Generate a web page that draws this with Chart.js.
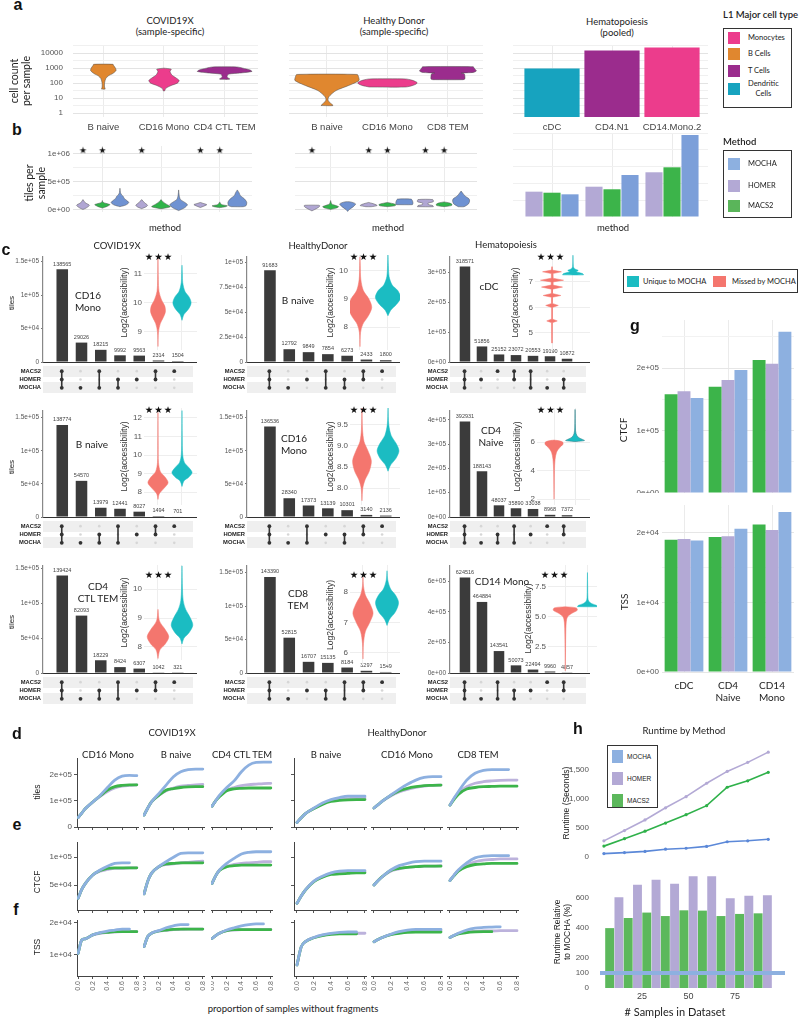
<!DOCTYPE html>
<html>
<head>
<meta charset="utf-8">
<title>MOCHA comparison figure</title>
<script src="https://cdn.jsdelivr.net/npm/chart.js@4.4.1/dist/chart.umd.min.js"></script>
<style>
  html, body { margin: 0; padding: 0; background: #fff; }
  #fig { position: relative; width: 800px; height: 1019px; overflow: hidden; font-family: Lato, 'Open Sans', sans-serif; color: #222; }
  #fig canvas { position: absolute; }
  .t { position: absolute; white-space: nowrap; }
  .r { position: absolute; box-sizing: border-box; }
</style>
</head>
<body>
<div id="fig"></div>
<script>
// ---- panel a : cell count per sample ----
const aCovidCats = ['B naive', 'CD16 Mono', 'CD4 CTL TEM'];
const aHealthyCats = ['B naive', 'CD16 Mono', 'CD8 TEM'];
const aHemaCats = ['cDC', 'CD4.N1', 'CD14.Mono.2'];
const aLogTicks = [1, 3.16, 10, 31.6, 100, 316, 1000, 3162, 10000, 31623];
const aLogLabels = [1, 10, 100, 1000, 10000];
// violin outlines: cell counts (y) and half widths (w)
const aCovidY = [
  [40, 55, 100, 200, 300, 450, 700, 1000, 1500, 1800],
  [30, 45, 70, 100, 150, 220, 350, 600, 850, 1000],
  [180, 200, 230, 300, 400, 470, 600, 750, 1000, 1200]
];
const aCovidW = [
  [0.03, 0.02, 0.02, 0.04, 0.08, 0.16, 0.21, 0.2, 0.17, 0.16],
  [0.01, 0.03, 0.12, 0.22, 0.25, 0.2, 0.13, 0.1, 0.12, 0],
  [0.08, 0.08, 0.05, 0.04, 0.07, 0.25, 0.45, 0.42, 0.3, 0.2]
];
const aHealthyY = [
  [3.2, 4.5, 7, 10, 15, 32, 70, 150, 280, 380],
  [55, 70, 90, 110, 130, 160, 190],
  [170, 190, 300, 420, 470, 520, 650, 850, 1050, 1250]
];
const aHealthyW = [
  [0.1, 0.06, 0.02, 0.02, 0.05, 0.15, 0.36, 0.53, 0.52, 0.5],
  [0.3, 0.42, 0.48, 0.49, 0.46, 0.4, 0.3],
  [0.25, 0.28, 0.28, 0.27, 0.22, 0.42, 0.47, 0.45, 0.43, 0.42]
];
const aHemaCounts = [950, 15100, 24000];

// ---- panel b : tiles per sample ----
const bMethods = ['HOMER', 'MACS2', 'MOCHA'];
const bTicks = [0, 250000, 500000, 750000, 1000000];
const bStarLevel = 1050000;
const bCovidY = [
  [0, 30000, 76000, 120000, 177000],
  [25000, 55000, 86000, 110000, 130000, 160000],
  [50000, 80000, 120000, 150000, 200000, 230000, 260000, 300000, 380000],
  [15000, 45000, 76000, 120000, 177000],
  [15000, 50000, 90000, 140000, 177000],
  [-20000, 30000, 86000, 130000, 180000, 250000, 350000],
  [35000, 60000, 86000, 105000, 126000],
  [35000, 50000, 66000, 90000, 136000],
  [50000, 70000, 130000, 190000, 250000, 300000, 350000]
];
const bCovidW = [
  [0, 0.06, 0.11, 0.04, 0],
  [0, 0.08, 0.13, 0.06, 0.01, 0],
  [0, 0.1, 0.15, 0.13, 0.07, 0.06, 0.03, 0.01, 0],
  [0, 0.07, 0.1, 0.05, 0],
  [0.02, 0.16, 0.1, 0.03, 0],
  [0, 0.1, 0.15, 0.1, 0.03, 0.01, 0],
  [0, 0.06, 0.11, 0.06, 0],
  [0, 0.1, 0.13, 0.03, 0],
  [0.1, 0.15, 0.16, 0.12, 0.05, 0.03, 0]
];
const bHealthyY = [
  [-25000, 0, 40000, 65000, 76000],
  [0, 25000, 50000, 75000, 100000, 160000],
  [-35000, 0, 50000, 100000, 136000],
  [50000, 70000, 86000, 110000, 126000],
  [50000, 65000, 86000, 105000, 126000],
  [86000, 100000, 130000, 160000, 186000],
  [50000, 70000, 90000, 115000, 140000, 177000],
  [50000, 70000, 90000, 115000, 136000],
  [50000, 100000, 150000, 190000, 240000, 290000, 330000]
];
const bHealthyW = [
  [0, 0.05, 0.12, 0.14, 0.12],
  [0, 0.1, 0.14, 0.08, 0.02, 0],
  [0, 0.03, 0.1, 0.14, 0.05],
  [0.05, 0.15, 0.13, 0.06, 0],
  [0, 0.13, 0.15, 0.1, 0],
  [0.14, 0.15, 0.15, 0.14, 0.12],
  [0.14, 0.13, 0.05, 0.05, 0.14, 0.13],
  [0, 0.13, 0.14, 0.1, 0],
  [0.05, 0.13, 0.15, 0.14, 0.07, 0.03, 0]
];
const bCovidStars = [[1, 'HOMER'], [1, 'MACS2'], [2, 'HOMER'], [3, 'HOMER'], [3, 'MACS2']];
const bHealthyStars = [[1, 'HOMER'], [2, 'HOMER'], [2, 'MACS2'], [3, 'HOMER'], [3, 'MACS2']];
const bHemaHOMER = [392000, 469000, 692000];
const bHemaMACS2 = [376000, 429000, 769000];
const bHemaMOCHA = [351000, 650000, 1269000];

// ---- panel c : upset plots (order: COVID19X, HealthyDonor, Hematopoiesis per row) ----
const cBars = [
  [138565, 29026, 18215, 9992, 9563, 2314, 1504],
  [91683, 12792, 9849, 7854, 6273, 2433, 1800],
  [318571, 51856, 25152, 23072, 20553, 19190, 10872],
  [138774, 54570, 13979, 12441, 8027, 1494, 701],
  [136536, 28340, 17373, 13139, 10301, 3140, 2136],
  [392931, 188143, 48037, 35890, 33038, 8968, 7372],
  [139424, 82093, 18229, 8424, 6307, 1042, 321],
  [143390, 52815, 16707, 15135, 8184, 3297, 1549],
  [624516, 464884, 143541, 50073, 22494, 9960, 4857]
];
// A = MACS2, H = HOMER, M = MOCHA
const cInter = [
  ['AHM', 'M', 'AM', 'HM', 'H', 'AH', 'A'],
  ['AHM', 'M', 'H', 'AM', 'HM', 'AH', 'A'],
  ['AHM', 'H', 'A', 'AH', 'AM', 'M', 'HM'],
  ['AHM', 'M', 'HM', 'AM', 'H', 'AH', 'A'],
  ['AHM', 'M', 'AM', 'H', 'HM', 'AH', 'A'],
  ['AHM', 'M', 'HM', 'AM', 'H', 'A', 'AH'],
  ['AHM', 'M', 'HM', 'AM', 'H', 'AH', 'A'],
  ['AHM', 'M', 'H', 'HM', 'AM', 'AH', 'A'],
  ['AHM', 'M', 'AM', 'HM', 'H', 'A', 'AH']
];
const cSetRows = ['MOCHA', 'HOMER', 'MACS2'];
const cTicks = [
  [0, 5e4, 1e5, 1.5e5], [0, 2.5e4, 5e4, 7.5e4, 1e5], [0, 1e5, 2e5, 3e5],
  [0, 5e4, 1e5, 1.5e5], [0, 5e4, 1e5, 1.5e5], [0, 1e5, 2e5, 3e5, 4e5],
  [0, 5e4, 1e5, 1.5e5], [0, 5e4, 1e5, 1.5e5], [0, 2e5, 4e5, 6e5]
];
const cMax = [157000, 105000, 350000, 160000, 160000, 436000, 153000, 160000, 700000];
const cNames = [['CD16', 'Mono'], ['B naive'], ['cDC'], ['B naive'], ['CD16', 'Mono'], ['CD4', 'Naive'], ['CD4', 'CTL TEM'], ['CD8', 'TEM'], ['CD14 Mono']];
// inset violins: log2 accessibility knots (y) and half widths (w); red = missed, teal = unique
const cRedY = [
  [8.5, 9.0, 9.3, 9.5, 9.7, 9.9, 10.1, 10.4, 10.8, 11.6],
  [7.3, 7.8, 8.1, 8.4, 8.7, 9.0, 9.3, 9.7, 10.2, 10.5],
  [4.6, 5.4, 5.47, 5.55, 6.0, 6.08, 6.16, 6.4, 6.47, 6.55, 6.72, 6.8, 6.88, 7.0, 7.07, 7.15, 7.33, 7.4, 7.47, 7.6],
  [7.6, 7.9, 8.2, 8.5, 8.8, 9.1, 9.6, 10.5, 12.3],
  [7.7, 8.0, 8.2, 8.4, 8.65, 8.9, 9.1, 9.4, 9.9],
  [2.0, 3.0, 4.0, 4.8, 5.3, 5.6, 5.85, 6.0, 6.1, 6.15],
  [7.6, 7.9, 8.1, 8.35, 8.6, 8.9, 9.3],
  [5.8, 6.3, 6.7, 7.0, 7.3, 7.6, 7.9, 8.2, 8.5],
  [0.5, 2.0, 3.5, 4.5, 5.0, 5.3, 5.55, 5.75, 5.85]
];
const cRedW = [
  [0, 0.02, 0.1, 0.22, 0.31, 0.28, 0.15, 0.04, 0.015, 0],
  [0, 0.02, 0.1, 0.3, 0.42, 0.32, 0.12, 0.03, 0.01, 0],
  [0, 0.01, 0.25, 0.01, 0.01, 0.3, 0.01, 0.02, 0.42, 0.02, 0.03, 0.5, 0.04, 0.04, 0.55, 0.04, 0.03, 0.45, 0.01, 0],
  [0, 0.05, 0.25, 0.42, 0.3, 0.1, 0.02, 0.008, 0],
  [0, 0.03, 0.12, 0.28, 0.36, 0.22, 0.08, 0.02, 0],
  [0, 0.01, 0.02, 0.05, 0.12, 0.25, 0.42, 0.42, 0.25, 0],
  [0, 0.08, 0.3, 0.45, 0.3, 0.06, 0],
  [0, 0.02, 0.1, 0.28, 0.42, 0.3, 0.1, 0.02, 0],
  [0, 0.01, 0.02, 0.04, 0.1, 0.3, 0.54, 0.5, 0]
];
const cTealY = [
  [9.4, 9.6, 9.8, 10.0, 10.2, 10.4, 10.7, 11.0, 11.3],
  [8.4, 8.6, 8.8, 9.05, 9.3, 9.5, 9.8, 10.2, 10.6],
  [7.28, 7.33, 7.4, 7.45, 7.52, 7.6, 8.05],
  [8.3, 8.6, 8.8, 9.05, 9.3, 9.6, 10.0, 11.0, 12.4],
  [8.4, 8.55, 8.7, 8.88, 9.05, 9.25, 9.5, 9.9],
  [6.05, 6.12, 6.2, 6.35, 6.6, 7.0, 8.3],
  [8.1, 8.3, 8.5, 8.75, 9.0, 9.3, 9.6, 10.0, 10.8],
  [6.9, 7.1, 7.35, 7.65, 7.9, 8.1, 8.4, 8.7],
  [5.85, 5.95, 6.1, 6.3, 6.6, 7.5, 8.7]
];
const cTealW = [
  [0, 0.08, 0.28, 0.38, 0.3, 0.12, 0.03, 0.015, 0],
  [0, 0.1, 0.3, 0.45, 0.35, 0.15, 0.04, 0.015, 0],
  [0.5, 0.45, 0.15, 0.25, 0.08, 0.02, 0],
  [0, 0.08, 0.28, 0.42, 0.3, 0.1, 0.03, 0.01, 0],
  [0, 0.1, 0.3, 0.42, 0.32, 0.12, 0.03, 0],
  [0.05, 0.45, 0.35, 0.15, 0.05, 0.015, 0],
  [0, 0.08, 0.3, 0.45, 0.35, 0.15, 0.05, 0.02, 0],
  [0, 0.1, 0.35, 0.48, 0.35, 0.15, 0.03, 0],
  [0.45, 0.42, 0.2, 0.06, 0.02, 0.01, 0]
];
const cAccTicks = [[9, 10, 11], [8, 9, 10], [5, 6, 7], [8, 9, 10, 11, 12], [8, 8.5, 9, 9.5], [2, 4, 6], [8, 9, 10], [6, 7, 8], [2.5, 5, 7.5]];
const cAccRange = [[8.38, 11.65], [7.18, 10.57], [4.33, 8.06], [7.3, 12.54], [7.6, 9.9], [1.6, 8.4], [7.55, 10.83], [5.6, 8.89], [0.4, 9.33]];

// ---- panels d-f : saturation curves, values in thousands; each facet = [MOCHA, HOMER, MACS2] ----
const dX = [0, 0.05, 0.1, 0.2, 0.3, 0.4, 0.5, 0.6, 0.7, 0.8];
const dFacets = ['CD16 Mono', 'B naive', 'CD4 CTL TEM', 'B naive', 'CD16 Mono', 'CD8 TEM'];
const dTilesK = [
  [[36, 53, 70, 95, 120, 150, 178, 193, 196, 195], [36, 53, 70, 95, 116, 135, 148, 155, 158, 160], [36, 53, 70, 95, 118, 140, 153, 158, 160, 160]],
  [[45, 72, 95, 127, 159, 191, 210, 218, 220, 220], [45, 72, 95, 120, 138, 148, 155, 158, 160, 162], [45, 72, 95, 120, 140, 146, 150, 152, 153, 153]],
  [[79, 100, 120, 150, 175, 210, 235, 245, 246, 246], [79, 100, 118, 140, 150, 157, 161, 163, 165, 166], [79, 100, 115, 138, 145, 147, 148, 148, 148, 148]],
  [[17, 35, 51, 72, 91, 104, 112, 117, 117, 117], [17, 35, 51, 70, 88, 100, 106, 108, 110, 110], [17, 35, 51, 70, 86, 97, 101, 103, 104, 104]],
  [[72, 85, 98, 121, 143, 162, 178, 188, 191, 191], [72, 85, 98, 118, 133, 143, 150, 155, 158, 159], [72, 85, 98, 120, 137, 147, 153, 157, 158, 159]],
  [[83, 110, 134, 178, 204, 215, 218, 218, 218, null], [83, 108, 128, 153, 166, 172, 175, 177, 178, 178], [83, 105, 124, 144, 150, 153, 154, 155, 155, 155]]
];
const dCtcfK = [
  [[26, 42, 53, 68, 77, 84, 89, 90, 90, null], [26, 42, 53, 68, 75, 78, 80, 80, 81, 81], [26, 42, 53, 68, 76, 80, 81, 81, 81, 81]],
  [[34, 57, 71, 83, 92, 100, 107, 108, 108, 108], [34, 57, 71, 83, 87, 88, 90, 91, 92, 93], [34, 57, 71, 83, 88, 89, 90, 90, 90, 90]],
  [[53, 67, 77, 89, 98, 106, 109, 110, 110, 110], [53, 67, 77, 84, 87, 89, 90, 91, 92, 92], [53, 67, 76, 83, 85, 86, 86, 86, 86, 86]],
  [[17, 30, 41, 57, 66, 72, 75, 76, 76, 76], [17, 30, 41, 57, 65, 70, 72, 73, 74, 74], [17, 30, 41, 56, 64, 69, 70, 71, 72, 72]],
  [[50, 58, 65, 77, 85, 89, 92, 93, 93, 93], [50, 58, 65, 75, 79, 82, 83, 84, 84, 85], [50, 58, 65, 76, 80, 82, 83, 84, 84, 84]],
  [[58, 68, 77, 90, 99, 102, 103, 103, 103, null], [58, 68, 76, 86, 92, 95, 96, 97, 97, 97], [58, 67, 75, 83, 87, 88, 89, 89, 89, 89]]
];
const dTssK = [
  [[10.5, 14.6, 15.0, 16.2, 16.9, 17.4, 17.7, 18.0, 18.0, null], [10.5, 14.6, 15.0, 16.2, 16.7, 17.0, 17.1, 17.2, 17.2, 17.2], [10.5, 14.6, 15.0, 16.2, 16.8, 17.0, 17.2, 17.2, 17.2, 17.2]],
  [[12.6, 15.7, 16.7, 17.5, 18.4, 19.0, 19.4, 19.4, null, null], [12.6, 15.7, 16.7, 17.4, 17.6, 17.8, 17.9, 18.0, 18.0, 18.0], [12.6, 15.7, 16.7, 17.4, 17.7, 17.9, 18.0, 18.0, 18.0, 18.0]],
  [[15.1, 16.0, 16.7, 17.7, 18.4, 19.0, 19.4, 19.6, 19.6, null], [15.1, 16.0, 16.7, 17.5, 17.7, 17.8, 17.8, 17.9, 17.9, 17.9], [15.1, 16.0, 16.7, 17.5, 17.8, 17.8, 17.8, 17.8, 17.8, 17.8]],
  [[6.9, 12.5, 14.1, 15.4, 16.2, 16.7, 17.0, 17.1, 17.1, null], [6.9, 12.5, 14.1, 15.4, 16.1, 16.5, 16.6, 16.7, 16.7, 16.7], [6.9, 12.5, 14.1, 15.3, 16.0, 16.4, 16.5, 16.5, 16.5, null]],
  [[14.1, 14.8, 15.4, 16.4, 17.2, 17.7, 17.9, 17.9, 17.9, 17.9], [14.1, 14.8, 15.4, 16.3, 16.9, 17.2, 17.4, 17.5, 17.5, 17.5], [14.1, 14.8, 15.4, 16.3, 16.7, 17.0, 17.1, 17.1, 17.1, 17.1]],
  [[15.4, 16.1, 16.7, 17.7, 18.3, 18.5, 18.6, 18.7, null, null], [15.4, 16.0, 16.6, 17.1, 17.3, 17.4, 17.4, 17.5, 17.5, 17.5], [15.4, 16.0, 16.5, 16.9, 17.1, 17.2, 17.2, null, null, null]]
];
const dYTicks = [[0, 100000, 200000], [50000, 100000], [10000, 20000]];
const dXTicks = [0, 0.2, 0.4, 0.6, 0.8];

// ---- panel g ----
const gCats = [['cDC'], ['CD4', 'Naive'], ['CD14', 'Mono']];
const gCtcfMACS2 = [158000, 170000, 213000];
const gCtcfHOMER = [163000, 181000, 207000];
const gCtcfMOCHA = [152000, 197000, 258000];
const gTssMACS2 = [19000, 19400, 21200];
const gTssHOMER = [19100, 19500, 20400];
const gTssMOCHA = [18900, 20600, 23000];

// ---- panel h ----
const hSamples = [10, 20, 30, 40, 50, 60, 70, 80, 90];
const hHomerSec = [268, 446, 629, 839, 1032, 1263, 1468, 1624, 1801];
const hMacs2Sec = [177, 306, 435, 575, 721, 876, 1194, 1306, 1452];
const hMochaSec = [48, 65, 86, 124, 140, 172, 253, 269, 295];
const hMacs2Rel = [397, 464, 500, 477, 515, 513, 477, 491, 495];
const hHomerRel = [602, 684, 717, 691, 740, 740, 595, 611, 615];
const hMochaRef = 100;

// ---------- styling ----------
const ORANGE = '#e0872f', PINK = '#ec3c8c', PURPLE = '#9b2c8d', DCTEAL = '#17a3bf';
const MOCHA_C = '#8db0e0', HOMER_C = '#b3a9d5', MACS2_C = '#3cb44a';
const RED = '#f4766e', TEAL = '#1bbcc2';
const GRID = '#ebebeb';
const SANS = "'Liberation Sans', Arial, sans-serif";
const TITLE = "Lato, 'Open Sans', sans-serif";

Chart.defaults.animation = false;
Chart.defaults.responsive = false;
Chart.defaults.events = [];
Chart.defaults.font.family = SANS;
Chart.defaults.font.size = 8;
Chart.defaults.color = '#555';
Chart.defaults.plugins.legend.display = false;
Chart.defaults.plugins.tooltip.enabled = false;
Chart.defaults.layout.padding = 0;

const fig = document.getElementById('fig');
function mk(left, top, w, h, cfg) {
  const c = document.createElement('canvas');
  c.width = w; c.height = h;
  c.style.left = left + 'px'; c.style.top = top + 'px';
  fig.appendChild(c);
  cfg.options = Object.assign({devicePixelRatio: 1}, cfg.options || {});
  return new Chart(c, cfg);
}
function txt(s, x, y, o = {}) {
  const d = document.createElement('div');
  d.className = 't';
  d.innerHTML = s;
  d.style.left = x + 'px'; d.style.top = y + 'px';
  d.style.fontSize = (o.size || 9.5) + 'px';
  d.style.fontFamily = o.font || TITLE;
  d.style.fontWeight = o.weight || 'normal';
  d.style.color = o.color || '#222';
  d.style.lineHeight = o.lh || 1.15;
  d.style.textAlign = 'center';
  d.style.letterSpacing = (o.ls || 0) + 'px';
  d.style.transform = (o.left ? 'translate(0,-50%)' : 'translate(-50%,-50%)') + (o.rot ? ' rotate(' + o.rot + 'deg)' : '');
  fig.appendChild(d);
}
function rect(x, y, w, h, bg, border) {
  const d = document.createElement('div');
  d.className = 'r';
  Object.assign(d.style, {left: x + 'px', top: y + 'px', width: w + 'px', height: h + 'px', background: bg || 'transparent', border: border || 'none'});
  fig.appendChild(d);
}
const fixY = w => s => { s.width = w; s.paddingTop = 0; s.paddingBottom = 0; };
const fixX = h => s => { s.height = h; s.paddingLeft = 0; s.paddingRight = 0; };
const setTicks = arr => s => { s.ticks = arr.map(v => ({value: v})); };
function sci(v, zeroSci) {
  if (v === 0) return zeroSci ? '0e+00' : '0';
  const e = Math.floor(Math.log10(v) + 1e-9);
  const m = Math.round(v / Math.pow(10, e) * 100) / 100;
  return m + 'e+' + String(e).padStart(2, '0');
}
function violin(cx, ys, ws, color, o = {}) {
  const L = ys.map((y, i) => ({x: cx - ws[i], y}));
  const R = ys.map((y, i) => ({x: cx + ws[i], y})).reverse();
  return {data: [...L, ...R, L[0]], showLine: true, fill: 'shape', backgroundColor: color,
    borderColor: o.border || color, borderWidth: o.bw == null ? 0.6 : o.bw, pointRadius: 0,
    tension: o.tension == null ? 0.3 : o.tension};
}
const barLabels = {
  id: 'barLabels',
  afterDatasetsDraw(chart) {
    const ctx = chart.ctx;
    const meta = chart.getDatasetMeta(0);
    ctx.save();
    ctx.font = "5.5px 'Liberation Sans', Arial";
    ctx.fillStyle = '#444'; ctx.textAlign = 'center'; ctx.textBaseline = 'bottom';
    meta.data.forEach((el, i) => ctx.fillText(String(chart.data.datasets[0].data[i].y), el.x, el.y - 2.5));
    ctx.restore();
  }
};
const starImg = document.createElement('canvas');
starImg.width = 9; starImg.height = 9;
(function () {
  const sc = starImg.getContext('2d');
  sc.font = "9px 'DejaVu Sans'"; sc.textAlign = 'center'; sc.textBaseline = 'middle'; sc.fillStyle = '#111';
  sc.fillText('★', 4.5, 5);
})();

// ---------- panel a ----------
const aColors = [ORANGE, PINK, PURPLE];
const logGrid = c => (c.tick && aLogLabels.includes(c.tick.value)) ? '#e3e3e3' : '#f0f0f0';
function aViolins(left, width, xmin, xmax, cats, ys, ws, labels) {
  const axW = labels ? 45 : 0;
  mk(left - axW, 45, width + axW, 90, {
    type: 'scatter',
    data: {datasets: ys.map((y, i) => violin(i + 1, y, ws[i], aColors[i], {border: '#4a4a4a', bw: 0.5, tension: 0.25}))},
    options: {scales: {
      x: {type: 'linear', min: xmin, max: xmax, afterBuildTicks: setTicks([1, 2, 3]),
        ticks: {callback: v => cats[v - 1], font: {size: 9.5}, color: '#444', padding: 5, autoSkip: false, maxRotation: 0},
        grid: {color: GRID, drawTicks: false}, border: {display: false}, afterFit: fixX(18)},
      y: {type: 'logarithmic', min: 0.55, max: 35000, afterBuildTicks: setTicks(aLogTicks),
        ticks: {display: labels, callback: v => aLogLabels.includes(v) ? String(v) : '', font: {size: 8}, padding: 10, autoSkip: false},
        grid: {color: logGrid, drawTicks: false}, border: {display: false}, afterFit: fixY(axW)}
    }}
  });
}
aViolins(73, 185, 0.5, 3.55, aCovidCats, aCovidY, aCovidW, true);
aViolins(289, 194, 0.372, 3.58, aHealthyCats, aHealthyY, aHealthyW, false);
mk(513, 45, 195, 90, {
  type: 'bar',
  data: {datasets: [{data: aHemaCounts.map((v, i) => ({x: i + 1, y: v})), backgroundColor: [DCTEAL, PURPLE, PINK], barPercentage: 0.92, categoryPercentage: 1}]},
  options: {scales: {
    x: {type: 'linear', min: 0.35, max: 3.6, offset: false, afterBuildTicks: setTicks([1, 2, 3]),
      ticks: {callback: v => aHemaCats[v - 1], font: {size: 9.5}, color: '#444', padding: 5, autoSkip: false, maxRotation: 0},
      grid: {color: GRID, drawTicks: false, offset: false}, border: {display: false}, afterFit: fixX(18)},
    y: {type: 'logarithmic', min: 0.55, max: 35000, afterBuildTicks: setTicks(aLogTicks), ticks: {display: false},
      grid: {color: logGrid, drawTicks: false}, border: {display: false}, afterFit: fixY(0)}
  }}
});

// ---------- panel b ----------
const bOffsets = [-0.33, 0, 0.3];
const bColors = ['#b0a6d3', '#2fb449', '#6f92d2'];
function bViolins(left, width, xmin, xmax, ys, ws, stars, labels) {
  const axW = labels ? 45 : 0;
  const ds = [{data: stars.map(([g, m]) => ({x: g + bOffsets[bMethods.indexOf(m)], y: bStarLevel})), pointStyle: starImg, pointRadius: 5}];
  ys.forEach((y, i) => ds.push(violin(Math.floor(i / 3) + 1 + bOffsets[i % 3], y, ws[i], bColors[i % 3], {border: '#555', bw: 0.5, tension: 0.25})));
  mk(left - axW, 140, width + axW, 78, {
    type: 'scatter',
    data: {datasets: ds},
    options: {scales: {
      x: {type: 'linear', min: xmin, max: xmax, afterBuildTicks: setTicks([1, 2, 3]), ticks: {display: false},
        grid: {color: GRID, drawTicks: false}, border: {display: false}, afterFit: fixX(0)},
      y: {min: -45000, max: 1136000, afterBuildTicks: setTicks(bTicks),
        ticks: {display: labels, callback: v => v % 500000 === 0 ? sci(v, true) : '', font: {size: 8}, padding: 3, autoSkip: false},
        grid: {color: c => c.tick && c.tick.value % 500000 === 0 ? '#e3e3e3' : '#f0f0f0', drawTicks: false}, border: {display: false}, afterFit: fixY(axW)}
    }}
  });
}
bViolins(73, 185, 0.5, 3.55, bCovidY, bCovidW, bCovidStars, true);
bViolins(289, 194, 0.372, 3.58, bHealthyY, bHealthyW, bHealthyStars, false);
mk(513, 133, 195, 84, {
  type: 'bar',
  data: {datasets: [bHemaHOMER, bHemaMACS2, bHemaMOCHA].map((arr, m) => ({
    data: arr.map((v, i) => ({x: i + 1, y: v})), backgroundColor: [HOMER_C, MACS2_C, '#7c9fd9'][m], barPercentage: 0.95, categoryPercentage: 0.9}))},
  options: {scales: {
    x: {type: 'linear', min: 0.35, max: 3.6, offset: false, afterBuildTicks: setTicks([1, 2, 3]), ticks: {display: false},
      grid: {color: GRID, drawTicks: false, offset: false}, border: {display: false}, afterFit: fixX(0)},
    y: {min: 0, max: 1300000, ticks: {display: false, stepSize: 250000}, grid: {color: '#f0f0f0', drawTicks: false}, border: {display: false}, afterFit: fixY(0)}
  }}
});

// ---------- panel c ----------
const cCols = [
  {left: 14, axW: 29, w: 183, xmin: 0, xmax: 8, bp: 0.6},
  {left: 218, axW: 29, w: 182, xmin: -0.19, xmax: 7.74, bp: 0.6},
  {left: 420, axW: 30, w: 170, xmin: 0.12, xmax: 8.35, bp: 0.62}
];
const cRows = [{top: 257, zero: 362}, {top: 411, zero: 517}, {top: 566, zero: 673}];
const cInsetBox = [
  [144, 197, 255, 350, 0.417, 2.625], [350, 400, 255, 350, 0.643, 2.43], [535, 590, 255, 350, 0.19, 2.81],
  [144, 197, 408, 505, 0.417, 2.625], [350, 400, 408, 505, 0.54, 2.46], [537, 590, 408, 505, 0.19, 2.71],
  [144, 197, 565, 660, 0.417, 2.625], [350, 400, 565, 665, 0.46, 2.54], [548, 597, 565, 672, 0.22, 2.43]
];
const cNamePos = [[88, 301], [298, 301], [489, 287], [92, 445], [294, 444], [491, 436], [98, 592], [298, 599], [502, 582]];
const cStarPos = [[159, 257], [364, 257], [551, 257], [159, 410], [364, 410], [551, 410], [159, 575], [364, 575], [555, 575]];
const rowOf = {A: 3, H: 2, M: 1};
const PADT = 6;

for (let k = 0; k < 9; k++) {
  const col = cCols[k % 3], row = cRows[Math.floor(k / 3)];
  const hema = k % 3 === 2;
  // intersection sizes
  mk(col.left, row.top - PADT, col.w, row.zero - row.top + 2 + PADT, {
    type: 'bar',
    data: {datasets: [{data: cBars[k].map((v, i) => ({x: i + 1, y: v})), backgroundColor: '#3b3b3b', barPercentage: col.bp, categoryPercentage: 1}]},
    options: {layout: {padding: {top: PADT}}, scales: {
      x: {type: 'linear', min: col.xmin, max: col.xmax, offset: false, ticks: {display: false}, grid: {display: false},
        border: {color: '#333', width: 1}, afterFit: fixX(2)},
      y: {min: 0, max: cMax[k], afterBuildTicks: setTicks(cTicks[k]),
        ticks: {callback: v => sci(v, hema), font: {size: 6.5}, color: '#555', padding: 2, autoSkip: false},
        grid: {drawOnChartArea: false, tickLength: 2, color: '#777'}, border: {color: '#888', width: 1.2}, afterFit: fixY(col.axW)}
    }},
    plugins: [barLabels]
  });
  // membership matrix
  const gray = [], dark = [], links = [];
  cInter[k].forEach((s, i) => {
    const rs = s.split('').map(ch => rowOf[ch]);
    [1, 2, 3].forEach(r => (rs.includes(r) ? dark : gray).push({x: i + 1, y: r}));
    if (rs.length > 1) links.push({x: i + 1, y: Math.min(...rs)}, {x: i + 1, y: Math.max(...rs)}, {x: i + 1, y: null});
  });
  mk(col.left, row.zero + 0.5, col.w, 33, {
    type: 'scatter',
    data: {datasets: [
      {data: dark, pointRadius: 1.9, backgroundColor: '#333', borderWidth: 0},
      {data: links, showLine: true, borderColor: '#333', borderWidth: 1.6, pointRadius: 0, spanGaps: false},
      {data: gray, pointRadius: 1.3, backgroundColor: '#d6d6d6', borderWidth: 0}
    ]},
    options: {scales: {
      x: {type: 'linear', min: col.xmin, max: col.xmax, display: false},
      y: {min: 0.5, max: 3.5, afterBuildTicks: setTicks([1, 2, 3]),
        ticks: {callback: v => cSetRows[v - 1], font: {size: 5.8, weight: 'bold'}, color: '#222', padding: 2, autoSkip: false},
        grid: {lineWidth: 11, color: c => c.tick && c.tick.value !== 2 ? '#efefef' : 'rgba(0,0,0,0)', drawTicks: false},
        border: {display: false}, afterFit: fixY(col.axW)}
    }}
  });
  // inset violins of accessibility
  const [il, ir, it, ib, ixmin, ixmax] = cInsetBox[k];
  const dec = k === 4 || k === 8;
  mk(il - 24, it, ir - il + 24, ib - it, {
    type: 'scatter',
    data: {datasets: [
      violin(1, cRedY[k], cRedW[k], RED, {bw: 0.5, tension: k === 2 ? 0 : 0.3}),
      violin(2, cTealY[k], cTealW[k], TEAL, {bw: 0.5, border: k === 5 ? '#16707a' : TEAL, tension: 0.3})
    ]},
    options: {scales: {
      x: {type: 'linear', min: ixmin, max: ixmax, afterBuildTicks: setTicks([1, 2]), ticks: {display: false},
        grid: {color: '#eeeeee', drawTicks: false}, border: {display: false}, afterFit: fixX(0)},
      y: {min: cAccRange[k][0], max: cAccRange[k][1], afterBuildTicks: setTicks(cAccTicks[k]),
        ticks: {callback: v => dec ? v.toFixed(1) : String(v), font: {size: 8}, color: '#555', padding: 2, autoSkip: false},
        title: {display: true, text: 'Log2(accessibility)', font: {size: 8.5}, color: '#333', padding: 0},
        grid: {color: '#eeeeee', drawTicks: false}, border: {display: false}, afterFit: fixY(24)}
    }}
  });
  txt(cNames[k].join('<br>'), cNamePos[k][0], cNamePos[k][1], {size: 10});
  txt('★★★', cStarPos[k][0], cStarPos[k][1], {size: 9.5, font: "'DejaVu Sans'", color: '#111', ls: 1});
}

// ---------- panels d, e, f ----------
const dFacetX = [[77, 139], [143, 205], [211, 273], [294, 367], [371, 443], [447, 519]];
const dRowY = [[758, 827], [842, 910], [920, 976]];
const dXRange = [[-0.015, 0.83], [-0.035, 0.824]];
const dYRange = [[0, 262000], [4900, 127600], [3500, 20800]];
const dLines = [[0, MOCHA_C], [2, MACS2_C], [1, '#bcb2dc']];
for (let ri = 0; ri < 3; ri++) {
  for (let fi = 0; fi < 6; fi++) {
    const [x0, x1] = dFacetX[fi], [y0, y1] = dRowY[ri];
    const axW = fi === 0 ? 32 : (fi === 3 ? 6 : 0);
    const xH = ri === 2 ? 20 : 4;
    const s = [dTilesK, dCtcfK, dTssK][ri][fi];
    const xr = dXRange[fi < 3 ? 0 : 1];
    mk(x0 - axW, y0 - 5, x1 - x0 + axW, y1 - y0 + xH + 5, {
      type: 'line',
      data: {datasets: dLines.map(([m, c]) => ({
        data: dX.map((x, i) => ({x, y: s[m][i] == null ? null : s[m][i] * 1000})),
        borderColor: c, borderWidth: 2.8, pointRadius: 0, cubicInterpolationMode: 'monotone', borderCapStyle: 'round', spanGaps: false}))},
      options: {layout: {padding: {top: 5}}, scales: {
        x: {type: 'linear', min: xr[0], max: xr[1], afterBuildTicks: setTicks(dXTicks),
          ticks: {display: ri === 2, callback: v => v.toFixed(1), font: {size: 7}, color: '#666', minRotation: 90, maxRotation: 90, padding: 2, autoSkip: false},
          grid: {drawOnChartArea: false, tickLength: 3, color: '#555'}, border: {color: '#444', width: 1}, afterFit: fixX(xH)},
        y: {display: axW > 0, min: dYRange[ri][0], max: dYRange[ri][1], afterBuildTicks: setTicks(dYTicks[ri]),
          ticks: {display: fi === 0, callback: v => sci(v, false), font: {size: 8}, color: '#555', padding: 2, autoSkip: false},
          grid: {drawOnChartArea: false, tickLength: 3, color: '#555'}, border: {color: '#444', width: 1}, afterFit: fixY(axW)}
      }}
    });
  }
}

// ---------- panel g ----------
function gChart(top, height, xH, series, max, ticks, major, showX) {
  mk(620, top - 5, 174, height + xH + 5, {
    type: 'bar',
    data: {labels: gCats, datasets: series.map((arr, m) => ({data: arr, backgroundColor: [MACS2_C, HOMER_C, MOCHA_C][m], categoryPercentage: 0.88, barPercentage: 1}))},
    options: {layout: {padding: {top: 5}}, scales: {
      x: {offset: true, grid: {offset: false, color: GRID, drawTicks: false}, border: {display: false},
        ticks: {display: showX, font: {size: 10, family: TITLE}, color: '#222', padding: 8, maxRotation: 0, autoSkip: false}, afterFit: fixX(xH)},
      y: {min: 0, max, afterBuildTicks: setTicks(ticks),
        ticks: {callback: v => v % major === 0 ? sci(v, true) : '', font: {size: 8}, color: '#555', padding: 3, autoSkip: false},
        grid: {color: c => c.tick && c.tick.value % major === 0 ? '#e6e6e6' : '#f2f2f2', drawTicks: false}, border: {display: false}, afterFit: fixY(42)}
    }}
  });
}
gChart(320, 173, 0, [gCtcfMACS2, gCtcfHOMER, gCtcfMOCHA], 277000, [0, 50000, 100000, 150000, 200000, 250000], 100000, false);
gChart(505, 167, 36, [gTssMACS2, gTssHOMER, gTssMOCHA], 24000, [0, 5000, 10000, 15000, 20000], 10000, true);

// ---------- panel h ----------
mk(560, 745, 225, 120, {
  type: 'line',
  data: {datasets: [[hMochaSec, '#5b88d8'], [hMacs2Sec, '#2fb14a'], [hHomerSec, HOMER_C]].map(([arr, c]) => ({
    data: hSamples.map((s, i) => ({x: s, y: arr[i]})), borderColor: c, backgroundColor: c, borderWidth: 1.6, pointRadius: 1.6, pointBorderWidth: 0, tension: 0}))},
  options: {scales: {
    x: {type: 'linear', min: 8.1, max: 96.2, display: false},
    y: {min: -80, max: 1855, afterBuildTicks: setTicks([0, 500, 1000, 1500]),
      ticks: {font: {size: 8}, color: '#555', padding: 3, autoSkip: false}, grid: {display: false}, border: {display: false}, afterFit: fixY(40)}
  }}
});
const hBarX = [2.3, 102];
mk(560, 872, 225, 140, {
  type: 'bar',
  data: {datasets: [
    {type: 'line', data: hBarX.map(x => ({x, y: hMochaRef})), borderColor: MOCHA_C, borderWidth: 4, pointRadius: 0},
    {data: hSamples.map((s, i) => ({x: s, y: hMacs2Rel[i]})), backgroundColor: '#5cb85c', barPercentage: 0.96, categoryPercentage: 1},
    {data: hSamples.map((s, i) => ({x: s, y: hHomerRel[i]})), backgroundColor: HOMER_C, barPercentage: 0.96, categoryPercentage: 1}
  ]},
  options: {scales: {
    x: {type: 'linear', min: hBarX[0], max: hBarX[1], offset: false, afterBuildTicks: setTicks([25, 50, 75]),
      ticks: {font: {size: 9}, color: '#444', padding: 3, autoSkip: false, maxRotation: 0}, grid: {display: false, drawTicks: false}, border: {display: false}, afterFit: fixX(24)},
    y: {min: 0, max: 769, afterBuildTicks: setTicks([0, 100, 200, 400, 600]),
      ticks: {font: {size: 8}, color: '#555', padding: 3, autoSkip: false}, grid: {display: false}, border: {display: false}, afterFit: fixY(40)}
  }}
});

// ---------- text ----------
const PL = {size: 16, weight: 'bold', font: SANS, color: '#111'};
txt('a', 18, 5, PL); txt('b', 17, 130, PL); txt('c', 6, 250, PL); txt('d', 17, 734, PL);
txt('e', 17, 825, PL); txt('f', 16, 910, PL); txt('g', 635, 326, PL); txt('h', 578, 729, PL);

txt('COVID19X<br>(sample-specific)', 170, 27, {size: 9.5});
txt('Healthy Donor<br>(sample-specific)', 394, 27, {size: 9.5});
txt('Hematopoiesis<br>(pooled)', 617, 28, {size: 9.5});
txt('cell count<br>per sample', 20, 81, {size: 10.5, rot: -90});
txt('tiles per<br>sample', 35, 183, {size: 10.5, rot: -90});
txt('method', 165, 228, {size: 9.5}); txt('method', 388, 228, {size: 9.5}); txt('method', 613, 228, {size: 9.5});

// legends
txt('L1 Major cell type', 723, 15, {size: 9.5, weight: 600, left: true});
rect(723, 28, 69, 80, '#fff', '1.2px solid #333');
[[PINK, 32, 'Monocytes'], [ORANGE, 48, 'B Cells'], [PURPLE, 65, 'T Cells'], [DCTEAL, 83, 'Dendritic<br>Cells']].forEach(([c, y, s]) => {
  rect(728, y, 12, 12, c);
  txt(s, 748, y + 6, {size: 7.5, left: true, lh: 1.3});
});
txt('Method', 723, 142, {size: 9.5, weight: 600, left: true});
rect(723, 150, 69, 68, '#fff', '1.2px solid #333');
[[MOCHA_C, 158, 'MOCHA'], [HOMER_C, 180, 'HOMER'], ['#5ab55a', 200, 'MACS2']].forEach(([c, y, s]) => {
  rect(728, y, 12, 12, c);
  txt(s, 748, y + 6, {size: 7.5, left: true});
});
rect(623, 269, 175, 24, '#fff', '1.2px solid #333');
rect(627, 276, 12, 11, TEAL); txt('Unique to MOCHA', 643, 281.5, {size: 7.5, left: true});
rect(713, 276, 13, 11, RED); txt('Missed by MOCHA', 732, 281.5, {size: 7.5, left: true});

// panel c titles
txt('COVID19X', 117, 246, {size: 9.5}); txt('HealthyDonor', 318, 246, {size: 9.5}); txt('Hematopoiesis', 506, 245, {size: 9.5});
[303, 467, 622].forEach(y => txt('tiles', 12, y, {size: 8, rot: -90, font: SANS}));

// panel d titles
txt('COVID19X', 172, 733, {size: 9.5}); txt('HealthyDonor', 397, 733, {size: 9.5});
dFacets.forEach((s, i) => txt(s, [108, 176, 242, 326, 407, 478][i], 755, {size: 9.5}));
txt('tiles', 38, 792, {size: 8.5, rot: -90, font: SANS});
txt('CTCF', 38, 882, {size: 8.5, rot: -90, font: SANS});
txt('TSS', 38, 947, {size: 8.5, rot: -90, font: SANS});
txt('proportion of samples without fragments', 293, 1009, {size: 9.5});

// panel g titles
txt('CTCF', 624, 430, {size: 10, rot: -90});
txt('TSS', 625, 602, {size: 10, rot: -90});

// panel h titles
txt('Runtime by Method', 684, 731, {size: 9.5});
txt('Runtime (Seconds)', 567, 803, {size: 8.5, rot: -90, font: SANS});
txt('Runtime Relative<br>to MOCHA (%)', 563, 932, {size: 8.5, rot: -90, font: SANS});
txt('# Samples in Dataset', 675, 1012, {size: 11});
rect(607, 745, 51, 63, '#fff', '1.2px solid #333');
[[MOCHA_C, 750, 'MOCHA'], [HOMER_C, 772, 'HOMER'], ['#5cb85c', 794, 'MACS2']].forEach(([c, y, s]) => {
  rect(612, y, 11, 13, c);
  txt(s, 627, y + 6.5, {size: 6.5, left: true, font: SANS});
});
</script>
</body>
</html>
